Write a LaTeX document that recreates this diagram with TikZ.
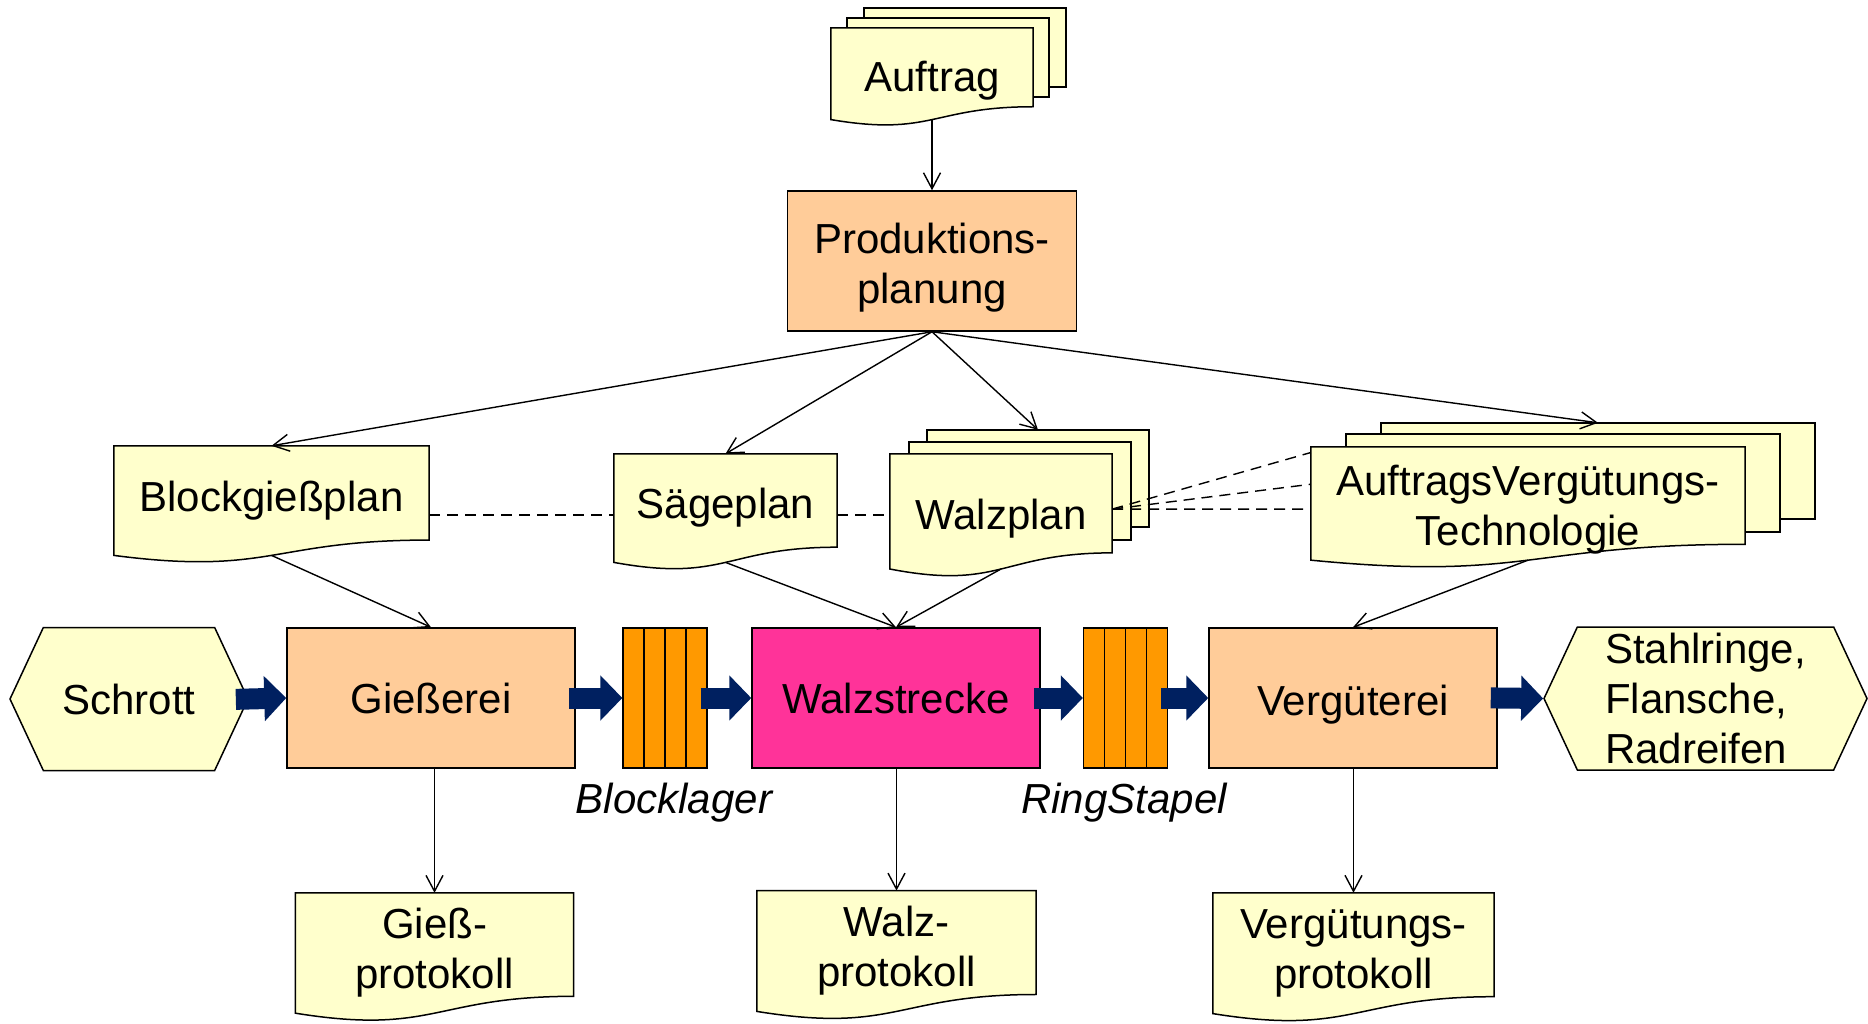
\documentclass[tikz,border=0pt]{standalone}
\usepackage{fontspec}
\setmainfont{Liberation Sans}
\usetikzlibrary{arrows.meta,calc,shapes.symbols,backgrounds}
\definecolor{docyellow}{HTML}{FFFFCC}
\definecolor{procorange}{HTML}{FFCC99}
\definecolor{walzpink}{HTML}{FF3399}
\definecolor{storeorange}{HTML}{FF9900}
\definecolor{flownavy}{HTML}{002060}
\tikzset{
  txt/.style={font=\fontsize{42}{50}\selectfont, align=center, inner sep=0pt},
  sunk/.style={text height=#1}, sunk/.default=44pt,
  doc/.style 2 args={txt, minimum width=#1, minimum height=#2},
  layer/.style 2 args={inner sep=0pt, minimum width=#1, minimum height=#2},
  docline/.style={draw, line width=1.5pt, fill=docyellow},
  proc/.style={txt, draw, line width=1.5pt, fill=procorange, minimum width=288pt, minimum height=140pt},
  store/.style={draw, line width=1.3pt, fill=storeorange, minimum width=84pt, minimum height=140pt,
    path picture={\foreach \i in {0.25,0.5,0.75}
      \draw[line width=1.3pt] ($(path picture bounding box.south west)!\i!(path picture bounding box.south east)$)
        -- ($(path picture bounding box.north west)!\i!(path picture bounding box.north east)$);}},
  hexa/.style={txt, draw, line width=1.5pt, fill=docyellow, shape=signal, signal to=west and east,
    signal pointer angle=130, minimum height=143pt},
  lbl/.style={font=\fontsize{42}{50}\selectfont\itshape, inner sep=0pt},
  flow/.style={line width=1.4pt, -{Straight Barb[length=16pt,width=17pt]}},
  fat/.style={flownavy, line width=21pt, -{Triangle[length=22pt,width=44pt]}, shorten <=-7pt},
  link/.style={line width=1.4pt, dash pattern=on 11pt off 7pt}
}
\begin{document}
\begin{tikzpicture}[x=1pt,y=-1pt]
\useasboundingbox (0,0) rectangle (1868,1024);
\node[layer={202}{79}] (auftrag2) at (965,47.5){};
\node[layer={202}{79}] (auftrag1) at (948,57.5){};
\node[doc={202}{91.4}, sunk] (auftrag) at (932,73.7){Auftrag};
\node[proc, sunk=93pt, minimum width=289pt] (prod) at (932,261){Produktions-\\planung};
\node[doc={315}{109.2}] (bgp) at (271.5,500.6){Blockgießplan};
\node[doc={223}{108.2}] (saege) at (725.5,508.1){Sägeplan};
\node[layer={222}{97}] (walz2) at (1038,478.5){};
\node[layer={222}{98}] (walz1) at (1020,491){};
\node[doc={222}{114.8}, sunk] (walz) at (1001,511.4){Walzplan};
\node[layer={434}{96}] (avt2) at (1598,471){};
\node[layer={434}{98}] (avt1) at (1563,483){};
\node[doc={434}{112.9}, sunk=93pt] (avt) at (1528,503.5){AuftragsVergütungs-\\Technologie};
\node[hexa, minimum width=238pt] (schrott) at (129,699){Schrott};
\node[proc] (giess) at (431,698){Gießerei};
\node[store] (blocklager) at (665,698){};
\node[proc, fill=walzpink] (walzstr) at (896,698){Walzstrecke};
\node[store] (ringstapel) at (1125.5,698){};
\node[proc, sunk] (verg) at (1353,698){Vergüterei};
\node[hexa, minimum width=323pt, align=left] (stahl) at (1705.5,698.5){Stahlringe,\\Flansche,\\Radreifen};
\node[lbl] (bllbl) at (674,803){Blocklager};
\node[lbl] (rslbl) at (1124,803){RingStapel};
\node[doc={278}{119.9}] (gprot) at (434.5,953){Gieß-\\protokoll};
\node[doc={279}{120.4}] (wprot) at (896.5,951){Walz-\\protokoll};
\node[doc={281}{120.4}] (vprot) at (1353.5,953.2){Vergütungs-\\protokoll};
\begin{scope}[on background layer]
\foreach \d in {auftrag2,walz2,avt2,auftrag1,walz1,avt1}
  \draw[docline] (\d.north west) rectangle (\d.south east);
\foreach \d in {auftrag,bgp,saege,walz,avt,gprot,wprot,vprot}
  \draw[docline] (\d.north west) -- (\d.north east) -- ($(\d.north east)!0.86!(\d.south east)$)
    .. controls ($(\d.north)!0.86!(\d.south)$) and ($(\d.north)!1.187!(\d.south)$) .. (\d.south west) -- cycle;
\end{scope}
\draw[flow] (auftrag.south) -- (prod.north);
\draw[flow] (prod.south) -- (bgp.north);
\draw[flow] (prod.south) -- (saege.north);
\draw[flow] (prod.south) -- (walz2.north);
\draw[flow] (prod.south) -- (avt2.north);
\draw[flow] (bgp.south) -- (giess.north);
\draw[flow] (saege.south) -- (walzstr.north);
\draw[flow] (walz.south) -- (walzstr.north);
\draw[flow] (avt.south) -- (verg.north);
\draw[flow] (giess.south -| gprot.north) -- (gprot.north);
\draw[flow] (walzstr.south -| wprot.north) -- (wprot.north);
\draw[flow] (verg.south -| vprot.north) -- (vprot.north);
\coordinate (dashrow) at (0,515);
\draw[link] (bgp.east |- dashrow) -- (saege.west |- dashrow);
\draw[link] (saege.east |- dashrow) -- (walz.west |- dashrow);
\coordinate (walzport) at ($(walz.north east)!0.48!(walz.south east)$);
\foreach \f in {0.05,0.33,0.55}
  \draw[link] (walzport) -- ($(avt.north west)!\f!(avt.south west)$);
\draw[fat, shorten <=-13pt] (schrott.east) -- (giess.west);
\draw[fat] (giess.east) -- (blocklager.west);
\draw[fat] (blocklager.east) -- (walzstr.west);
\draw[fat] (walzstr.east) -- (ringstapel.west);
\draw[fat] (ringstapel.east) -- (verg.west);
\draw[fat] (verg.east) -- (stahl.west);
\end{tikzpicture}
\end{document}
